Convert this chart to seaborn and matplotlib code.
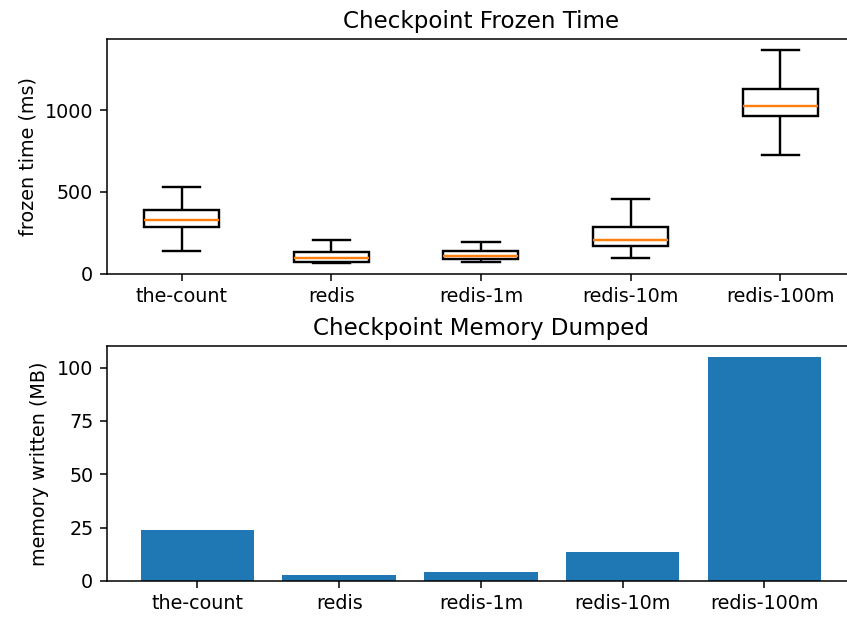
import matplotlib
matplotlib.use("Agg")
import matplotlib.pyplot as plt
from matplotlib.ticker import MultipleLocator
import seaborn as sns
import pandas as pd

categories = ["the-count", "redis", "redis-1m", "redis-10m", "redis-100m"]

# five-number summaries (min, q1, median, q3, max), in ms
frozen_the_count = [140, 285, 325, 386, 532]
frozen_redis = [63, 71, 96, 130, 207]
frozen_redis_1m = [69, 90, 110, 136, 191]
frozen_redis_10m = [93, 169, 208, 285, 455]
frozen_redis_100m = [724, 963, 1024, 1126, 1368]

memory_mb = [24.0, 3.0, 4.1, 13.4, 104.9]

frozen = {
    "the-count": frozen_the_count,
    "redis": frozen_redis,
    "redis-1m": frozen_redis_1m,
    "redis-10m": frozen_redis_10m,
    "redis-100m": frozen_redis_100m,
}
rows = [(k, v) for k in categories for v in frozen[k]]
df_frozen = pd.DataFrame(rows, columns=["app", "ms"])
df_mem = pd.DataFrame({"app": categories, "mb": memory_mb})

dpi = 138
fig = plt.figure(figsize=(847 / dpi, 619 / dpi), dpi=dpi)
ax1 = fig.add_axes([0.1260, 0.5574, 0.8835, 0.3792])
ax2 = fig.add_axes([0.1260, 0.0614, 0.8835, 0.3796])

sns.boxplot(data=df_frozen, x="app", y="ms", order=categories, ax=ax1,
            color="white", linecolor="black", linewidth=1.25, width=0.5,
            whis=(0, 100), showfliers=False, saturation=1,
            medianprops=dict(color="#ff7f0e", linewidth=1.25))
ax1.set_title("Checkpoint Frozen Time")
ax1.set_ylabel("frozen time (ms)")
ax1.set_xlabel("")
ax1.set_xlim(-0.5, 4.5)
ax1.yaxis.set_major_locator(MultipleLocator(500))

sns.barplot(data=df_mem, x="app", y="mb", order=categories, ax=ax2,
            color="#1f77b4", saturation=1, width=0.8, linewidth=0)
ax2.set_title("Checkpoint Memory Dumped")
ax2.set_ylabel("memory written (MB)")
ax2.set_xlabel("")
ax2.set_xlim(-0.64, 4.64)
ax2.yaxis.set_major_locator(MultipleLocator(25))

fig.savefig("out.png", dpi=dpi)
